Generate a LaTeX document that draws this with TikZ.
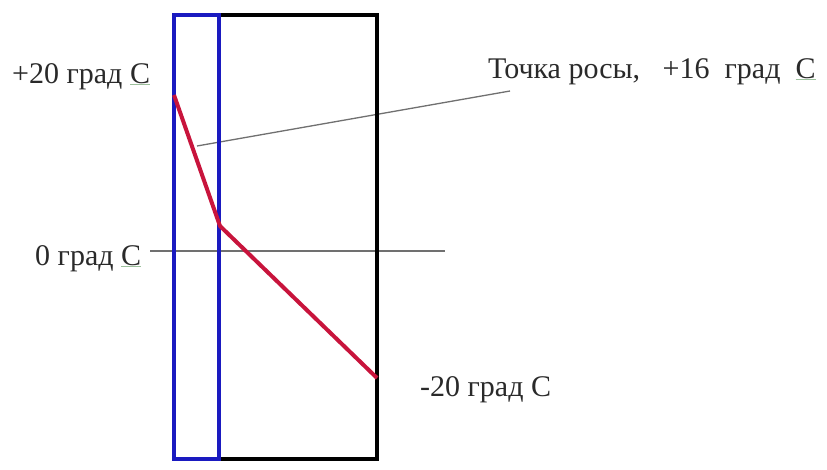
\documentclass[tikz,border=0pt]{standalone}
\usepackage{fontspec}
\setmainfont{Liberation Serif}
\definecolor{txt}{HTML}{2A2A2A}
\definecolor{wall}{HTML}{1A1AC0}
\definecolor{hot}{HTML}{C8143C}
\definecolor{lead}{HTML}{707070}
\definecolor{squig}{HTML}{9CC09C}
\newcommand\mysq[1]{{\color{squig}\underline{\textcolor{txt}{#1}}}}
\begin{document}
\begin{tikzpicture}[x=1pt,y=-1pt,
  lbl/.style={font=\fontsize{30}{32}\selectfont, text=txt, inner sep=0pt, anchor=base west},
  leader/.style={draw=lead, line width=1.3pt},
  blk/.style={draw=black, line width=4pt},
  blu/.style={draw=wall, line width=4pt},
  grad/.style={draw=hot, line width=4pt, line join=round}]
\useasboundingbox (0,0) rectangle (827,469);
\fill[white] (0,0) rectangle (827,469);
% nodes for geometry
\coordinate (tl) at (174,15);
\coordinate (mt) at (219,15);
\coordinate (tr) at (377,15);
\coordinate (bl) at (174,459);
\coordinate (mb) at (219,459);
\coordinate (br) at (377,459);
\coordinate (p1) at (174,95);
\coordinate (p2) at (220,226);
\coordinate (p3) at (377,378);
\coordinate (l1) at (197,146);
\coordinate (l2) at (510,91);
\coordinate (h1) at (150,251);
\coordinate (h2) at (445,251);
% leaders
\draw[leader] (l1) -- (l2);
\draw[leader] (h1) -- (h2);
% wall layers
\draw[blk] (mt) -- (tr) -- (br) -- (mb);
\draw[blu] (tl) rectangle (mb);
% temperature curve
\draw[grad] (p1) -- (p2) -- (p3);
% labels
\node[lbl] (t20) at (12,83) {+20 град \mysq{С}};
\node[lbl] (dew) at (488,78) {Точка росы,\ \ \ +16\ \ град\ \ \mysq{С}};
\node[lbl] (t0) at (35,265) {0 град \mysq{С}};
\node[lbl] (tm20) at (420,396) {-20 град С};
\end{tikzpicture}
\end{document}
